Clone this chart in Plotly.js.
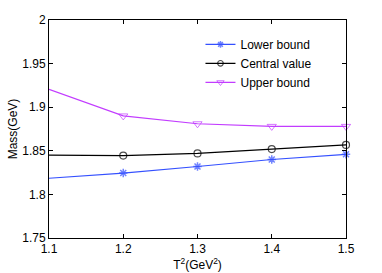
<!DOCTYPE html>
<html>
<head>
<meta charset="utf-8">
<script src="https://cdn.plot.ly/plotly-3.0.1.min.js"></script>
<style>html,body{margin:0;padding:0;background:#fff;}#chart{width:382px;height:273px;}</style>
</head>
<body>
<div id="chart"></div>
<script>
var T2 = [1.1, 1.2, 1.3, 1.4, 1.5];
var lowerBound = [1.8185, 1.8245, 1.832, 1.840, 1.846];
var centralValue = [1.845, 1.8445, 1.847, 1.852, 1.8567];
var upperBound = [1.9205, 1.890, 1.881, 1.878, 1.878];
var names = ["Lower bound", "Central value", "Upper bound"];
var xTicks = [1.1, 1.2, 1.3, 1.4, 1.5];
var yTicks = [1.75, 1.8, 1.85, 1.9, 1.95, 2];

var traces = [
  {x: T2, y: lowerBound, name: names[0], mode: "lines+markers", cliponaxis: false,
   line: {color: "#3450ff", width: 1.2},
   marker: {symbol: "asterisk-open", size: [0, 7, 7, 7, 7], color: "#3450ff", line: {color: "#3450ff", width: 1.5}}},
  {x: T2, y: centralValue, name: names[1], mode: "lines+markers", cliponaxis: false,
   line: {color: "#000000", width: 1.2},
   marker: {symbol: "circle-open", size: [0, 7, 7, 7, 7], color: "#000000", line: {color: "#000000", width: 1.2}}},
  {x: T2, y: upperBound, name: names[2], mode: "lines+markers", cliponaxis: false,
   line: {color: "#c23cff", width: 1.2},
   marker: {symbol: "triangle-down-open", size: [0, 8, 8, 8, 8], color: "#c23cff", line: {color: "#c23cff", width: 1}}}
];

var axisCommon = {
  showline: true, mirror: "ticks", linecolor: "#000", linewidth: 1,
  ticks: "inside", ticklen: 4, tickcolor: "#000", showgrid: false, zeroline: false,
  tickfont: {family: "Liberation Sans, Arial, sans-serif", size: 12, color: "#000"}
};

var layout = {
  width: 382, height: 273,
  margin: {l: 49, r: 36, t: 20, b: 35},
  paper_bgcolor: "#fff", plot_bgcolor: "#fff",
  font: {family: "Liberation Sans, Arial, sans-serif", size: 12, color: "#000"},
  showlegend: true,
  legend: {x: 0.51, y: 0.955, xanchor: "left", yanchor: "top", bgcolor: "rgba(0,0,0,0)",
           borderwidth: 0, font: {size: 12}, tracegroupgap: 0, itemwidth: 30},
  xaxis: Object.assign({}, axisCommon, {
    range: [1.1, 1.5], tickvals: xTicks, ticktext: xTicks.map(String),
    title: {text: "T<sup>2</sup>(GeV<sup>2</sup>)", standoff: 2, font: {size: 12}}
  }),
  yaxis: Object.assign({}, axisCommon, {
    automargin: true,
    range: [1.75, 2], tickvals: yTicks, ticktext: yTicks.map(String),
    title: {text: "Mass(GeV)", standoff: 2, font: {size: 12}}
  })
};

Plotly.newPlot("chart", traces, layout, {displayModeBar: false, staticPlot: true});
</script>
</body>
</html>
